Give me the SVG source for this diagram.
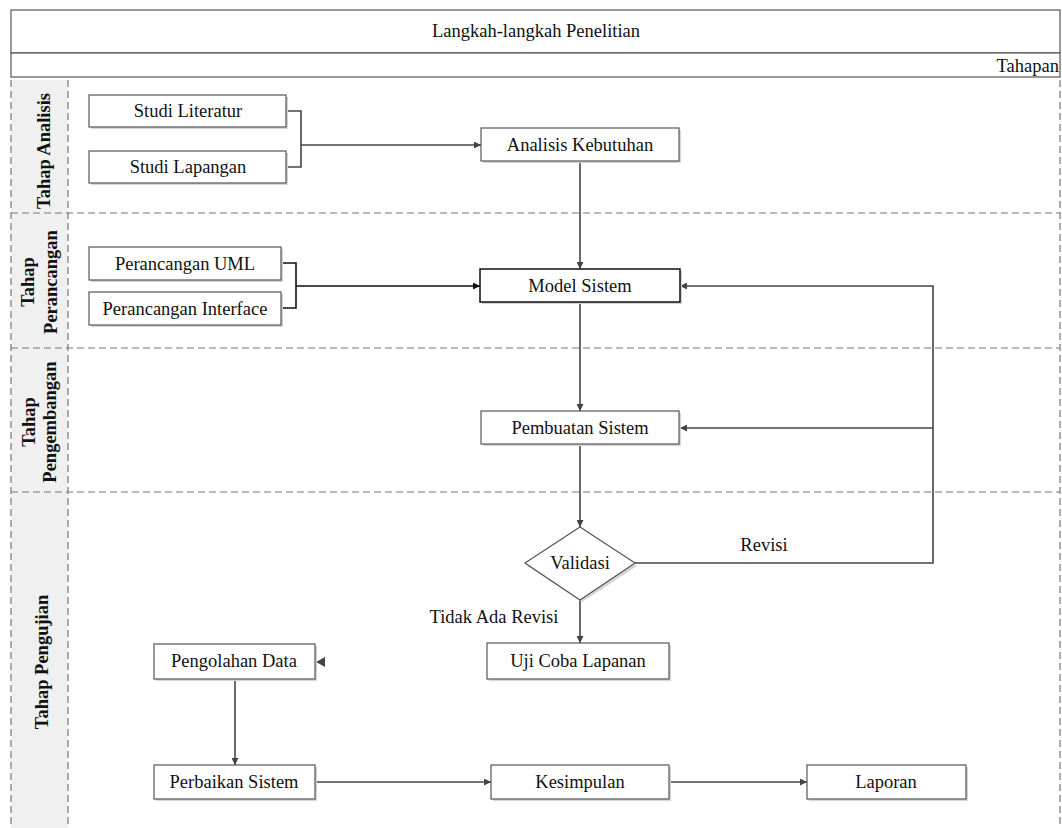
<svg xmlns="http://www.w3.org/2000/svg" width="1062" height="828" viewBox="0 0 1062 828" font-family="'Liberation Serif', 'Times New Roman', Tinos, 'DejaVu Serif', serif">
<style>
text{font-family:'Liberation Serif','Times New Roman',Tinos,'DejaVu Serif',serif;font-size:18.5px;fill:#111}
.c{text-anchor:middle;dominant-baseline:central}
.lane{font-weight:bold;font-size:18.5px}
.box{fill:#fff;stroke:#555;stroke-width:1.2}
.boxb{fill:#fff;stroke:#111;stroke-width:1.5}
.sh{fill:#d4d4d4}
.div{stroke:#777;stroke-width:1.2;stroke-dasharray:7 4;fill:none}
.con{stroke:#444;stroke-width:1.6;fill:none}
.conb{stroke:#111;stroke-width:1.6;fill:none}
</style>
<defs>
<marker id="ah" viewBox="0 0 10 10" refX="10" refY="5" markerWidth="7" markerHeight="7" markerUnits="userSpaceOnUse" orient="auto">
<path d="M0,0 L10,5 L0,10 z" fill="#444"/>
</marker>
<marker id="ahb" viewBox="0 0 10 10" refX="10" refY="5" markerWidth="7" markerHeight="7" markerUnits="userSpaceOnUse" orient="auto">
<path d="M0,0 L10,5 L0,10 z" fill="#111"/>
</marker>
</defs>
<rect width="1062" height="828" fill="#fff"/>
<g id="header">
<rect x="11" y="10" width="1049" height="43" fill="#fff" stroke="#555" stroke-width="1.2"/>
<rect x="11" y="53" width="1049" height="24" fill="#fff" stroke="#555" stroke-width="1.2"/>
<text class="c" x="536" y="31">Langkah-langkah Penelitian</text>
<text x="1059" y="66" text-anchor="end" dominant-baseline="central">Tahapan</text>
</g>
<g id="lanes">
<rect x="11" y="80" width="57" height="748" fill="#f0f0f0"/>
<path class="div" d="M11,80 V828 M68,80 V828 M1060,80 V828 M11,213 H1060 M11,348 H1060 M11,492 H1060"/>
<text class="lane c" transform="translate(44,151) rotate(-90)">Tahap Analisis</text>
<text class="lane c" transform="translate(28,282) rotate(-90)">Tahap</text>
<text class="lane c" transform="translate(51,282) rotate(-90)">Perancangan</text>
<text class="lane c" transform="translate(29,422) rotate(-90)">Tahap</text>
<text class="lane c" transform="translate(50,422) rotate(-90)">Pengembangan</text>
<text class="lane c" transform="translate(42,662) rotate(-90)">Tahap Pengujian</text>
</g>
<g id="connectors">
<path class="con" d="M286,111 H301 V167 H286 M301,145 H481" marker-end="url(#ah)"/>
<path class="conb" d="M281,263 H296 V308 H281 M296,286 H480" marker-end="url(#ahb)"/>
<path class="con" d="M580,161 V269" marker-end="url(#ah)"/>
<path class="con" d="M580,302 V411" marker-end="url(#ah)"/>
<path class="con" d="M580,444 V527" marker-end="url(#ah)"/>
<path class="con" d="M635,563 H933 V286 H680" marker-end="url(#ah)"/>
<path class="con" d="M933,428 H680" marker-end="url(#ah)"/>
<path class="con" d="M580,600 V643" marker-end="url(#ah)"/>
<path d="M325,657 L316,662 L325,667 z" fill="#444"/>
<path class="con" d="M235,679 V765" marker-end="url(#ah)"/>
<path class="con" d="M315,782 H491" marker-end="url(#ah)"/>
<path class="con" d="M669,782 H807" marker-end="url(#ah)"/>
<text class="c" x="764" y="545">Revisi</text>
<text class="c" x="494" y="617">Tidak Ada Revisi</text>
</g>
<g id="studi-literatur"><rect class="sh" x="91" y="97" width="197" height="32"/><rect class="box" x="89" y="95" width="197" height="32"/><text class="c" x="188" y="111">Studi Literatur</text></g>
<g id="studi-lapangan"><rect class="sh" x="91" y="153" width="197" height="32"/><rect class="box" x="89" y="151" width="197" height="32"/><text class="c" x="188" y="167">Studi Lapangan</text></g>
<g id="analisis-kebutuhan"><rect class="sh" x="483" y="130" width="198" height="33"/><rect class="box" x="481" y="128" width="198" height="33"/><text class="c" x="580" y="145">Analisis  Kebutuhan</text></g>
<g id="perancangan-uml"><rect class="sh" x="91" y="249" width="192" height="33"/><rect class="box" x="89" y="247" width="192" height="33"/><text class="c" x="185" y="264">Perancangan UML</text></g>
<g id="perancangan-interface"><rect class="sh" x="91" y="294" width="192" height="33"/><rect class="box" x="89" y="292" width="192" height="33"/><text class="c" x="185" y="309">Perancangan  Interface</text></g>
<g id="model-sistem"><rect class="sh" x="482" y="271" width="200" height="33"/><rect class="boxb" x="480" y="269" width="200" height="33"/><text class="c" x="580" y="286">Model Sistem</text></g>
<g id="pembuatan-sistem"><rect class="sh" x="483" y="413" width="198" height="33"/><rect class="box" x="481" y="411" width="198" height="33"/><text class="c" x="580" y="428">Pembuatan Sistem</text></g>
<g id="validasi"><path d="M582,530 L637,566 L582,602 L527,566 z" fill="#d4d4d4"/><path d="M580,527 L635,563 L580,600 L525,563 z" fill="#fff" stroke="#555" stroke-width="1.2"/><text class="c" x="580" y="563">Validasi</text></g>
<g id="uji-coba"><rect class="sh" x="489" y="645" width="182" height="36"/><rect class="box" x="487" y="643" width="182" height="36"/><text class="c" x="578" y="661">Uji Coba Lapanan</text></g>
<g id="pengolahan-data"><rect class="sh" x="156" y="646" width="161" height="35"/><rect class="box" x="154" y="644" width="161" height="35"/><text class="c" x="234" y="661">Pengolahan Data</text></g>
<g id="perbaikan-sistem"><rect class="sh" x="156" y="767" width="161" height="34"/><rect class="box" x="154" y="765" width="161" height="34"/><text class="c" x="234" y="782">Perbaikan Sistem</text></g>
<g id="kesimpulan"><rect class="sh" x="493" y="767" width="178" height="34"/><rect class="box" x="491" y="765" width="178" height="34"/><text class="c" x="580" y="782">Kesimpulan</text></g>
<g id="laporan"><rect class="sh" x="809" y="767" width="159" height="34"/><rect class="box" x="807" y="765" width="159" height="34"/><text class="c" x="886" y="782">Laporan</text></g>
</svg>
